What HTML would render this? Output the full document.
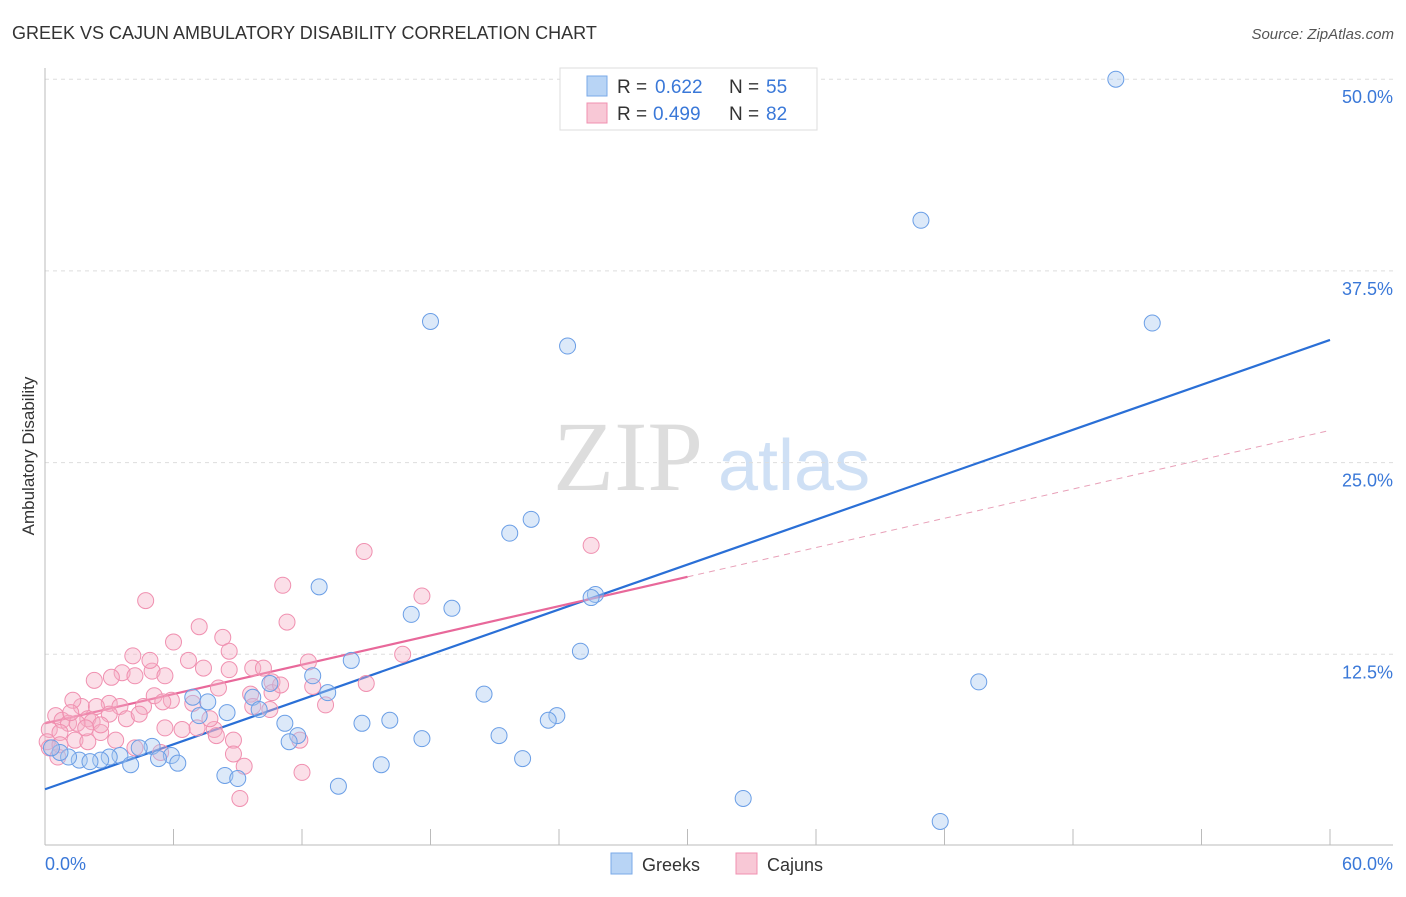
<!DOCTYPE html>
<html><head><meta charset="utf-8"><style>
body{margin:0;background:#fff;font-family:"Liberation Sans",sans-serif;}
svg text{font-family:"Liberation Sans",sans-serif;}
svg text.serif{font-family:"Liberation Serif",serif;}
</style></head><body>
<svg id="chart" width="1406" height="892" xmlns="http://www.w3.org/2000/svg">
<text x="12" y="39" font-size="18" fill="#333">GREEK VS CAJUN AMBULATORY DISABILITY CORRELATION CHART</text>
<text x="1394" y="39" font-size="15" fill="#555" text-anchor="end" font-style="italic">Source: ZipAtlas.com</text>
<text class="serif" x="553" y="490" font-size="100" fill="#ddd">ZIP</text>
<text x="718" y="490" font-size="72" fill="#cfe0f5">atlas</text>
<text transform="translate(34,456) rotate(-90)" font-size="17" fill="#333" text-anchor="middle">Ambulatory Disability</text>
<g id="grid"></g><g id="axes"></g><g id="trend"></g><g id="pts"></g>
<g>
<rect x="560" y="68" width="257" height="62" fill="#fff" stroke="#ddd"/>
<rect x="587" y="76" width="20" height="20" fill="#b8d4f5" stroke="#7aaae8"/>
<rect x="587" y="103" width="20" height="20" fill="#f8c8d6" stroke="#f090b0"/>
<text x="617" y="93" font-size="19" fill="#333">R =</text>
<text x="655" y="93" font-size="19" fill="#3a78d8">0.622</text>
<text x="729" y="93" font-size="19" fill="#333">N =</text>
<text x="766" y="93" font-size="19" fill="#3a78d8">55</text>
<text x="617" y="120" font-size="19" fill="#333">R =</text>
<text x="653" y="120" font-size="19" fill="#3a78d8">0.499</text>
<text x="729" y="120" font-size="19" fill="#333">N =</text>
<text x="766" y="120" font-size="19" fill="#3a78d8">82</text>
</g>
<g>
<rect x="611" y="853" width="21" height="21" fill="#b8d4f5" stroke="#7aaae8"/>
<text x="642" y="871" font-size="18" fill="#333">Greeks</text>
<rect x="736" y="853" width="21" height="21" fill="#f8c8d6" stroke="#f090b0"/>
<text x="767" y="871" font-size="18" fill="#333">Cajuns</text>
</g>
</svg>
<script>
const greekX=[50.0,40.9,18.0,24.4,51.7,22.7,21.7,12.8,25.7,25.5,17.1,19.0,25.0,14.3,43.6,12.5,20.5,13.2,6.9,7.6,10.5,9.7,10.0,7.2,8.5,23.9,23.5,16.1,14.8,11.2,17.6,21.2,11.8,11.4,5.0,4.4,5.9,5.3,3.5,3.0,2.6,1.6,2.1,1.1,0.7,0.3,4.0,6.2,22.3,15.7,8.4,9.0,13.7,32.6,41.8];
const greekY=[50.0,40.8,34.2,32.6,34.1,21.3,20.4,16.9,16.4,16.2,15.1,15.5,12.7,12.1,10.7,11.1,9.9,10.0,9.7,9.4,10.6,9.7,8.9,8.5,8.7,8.5,8.2,8.2,8.0,8.0,7.0,7.2,7.2,6.8,6.5,6.4,5.9,5.7,5.9,5.8,5.6,5.6,5.5,5.8,6.1,6.4,5.3,5.4,5.7,5.3,4.6,4.4,3.9,3.1,1.6];
const cajunX=[14.9,25.5,11.1,4.7,17.6,11.3,7.2,8.3,6.0,8.6,4.1,6.7,12.3,16.7,9.7,10.2,7.4,5.0,3.6,3.1,2.3,4.2,5.6,10.6,15.0,12.5,8.1,9.6,5.1,10.6,5.9,5.5,3.0,1.7,2.4,3.5,4.6,9.7,10.5,13.1,1.3,0.5,0.8,2.0,2.2,3.8,3.0,4.4,1.1,1.5,0.2,0.7,2.6,5.6,7.1,7.9,8.8,11.9,8.0,1.4,0.1,2.0,0.2,4.2,5.4,8.8,9.3,12.0,9.1,0.6,8.6,7.7,6.4,2.6,3.3,6.9,4.9,11.0,0.7,1.9,1.2];
const cajunY=[19.2,19.6,17.0,16.0,16.3,14.6,14.3,13.6,13.3,12.7,12.4,12.1,12.0,12.5,11.6,11.6,11.6,11.4,11.3,11.0,10.8,11.1,11.1,10.7,10.6,10.4,10.3,9.9,9.8,10.0,9.5,9.4,9.3,9.1,9.1,9.1,9.1,9.1,8.9,9.2,9.5,8.5,8.2,8.3,8.1,8.3,8.6,8.6,8.0,8.0,7.6,7.4,7.4,7.7,7.7,7.6,6.9,6.9,7.2,6.9,6.8,6.8,6.4,6.4,6.1,6.0,5.2,4.8,3.1,5.8,11.5,8.3,7.6,7.9,6.9,9.3,12.1,10.5,6.6,7.7,8.7];
const greekTrend=[3.7,33.0];   // y at x=0 and x=60
const cajunTrend=[8.0,27.1];   // y at x=0 and x=60
const yTicks=[12.5,25.0,37.5,50.0];
const xTickLabels=["0.0%","60.0%"];
const X0=45,X1=1330,Y0=846,YPX=191.7/12.5;
const sx=v=>X0+v/60*(X1-X0), sy=v=>Y0-v*YPX;
const NS="http://www.w3.org/2000/svg";
function mk(parent,tag,attrs){const e=document.createElementNS(NS,tag);for(const k in attrs)e.setAttribute(k,attrs[k]);document.getElementById(parent).appendChild(e);return e;}
yTicks.forEach(t=>{
  const l=mk('grid','line',{x1:45,x2:1393,y1:sy(t),y2:sy(t),stroke:'#ddd','stroke-dasharray':'4,4'});
  
  
  const tx=mk('grid','text',{x:1393,y:sy(t)+24,'font-size':18,fill:'#3a78d8','text-anchor':'end'});
  
  
  tx.textContent=t.toFixed(1)+'%';
});
let a=mk('axes','line',{x1:45,x2:1393,y1:845,y2:845,stroke:'#bbb'});


a=mk('axes','line',{x1:45,x2:45,y1:68,y2:845,stroke:'#bbb'});


for(let i=0;i<=10;i++){
  const t=mk('axes','line',{x1:sx(i*6),x2:sx(i*6),y1:829,y2:845,stroke:'#bbb'});
  
  
}
[[0,'start',45],[1,'end',1393]].forEach(([i,anc,x])=>{
  const t=mk('axes','text',{x:x,y:870,'font-size':18,fill:'#3a78d8','text-anchor':anc});
  
  
  t.textContent=xTickLabels[i];
});
function dots(xs,ys,fill,stroke,name){
  xs.forEach((x,i)=>{
    const c=mk('pts','circle',{cx:sx(x),cy:sy(ys[i]),r:8,fill:fill,'fill-opacity':0.4,stroke:stroke,'stroke-width':1});
    
    
  });
}
dots(cajunX,cajunY,'#f5b0c5','#f090b0','cajun-point');
dots(greekX,greekY,'#a8c8f0','#6a9ee6','greek-point');
let tl=mk('trend','line',{x1:sx(0),y1:sy(greekTrend[0]),x2:sx(60),y2:sy(greekTrend[1]),stroke:'#2a6fd6','stroke-width':2.2});


const cy=x=>cajunTrend[0]+(cajunTrend[1]-cajunTrend[0])*x/60;
tl=mk('trend','line',{x1:sx(0),y1:sy(cy(0)),x2:sx(30),y2:sy(cy(30)),stroke:'#e8689a','stroke-width':2.2});


tl=mk('trend','line',{x1:sx(30),y1:sy(cy(30)),x2:sx(60),y2:sy(cy(60)),stroke:'#e8a0b8','stroke-width':1,'stroke-dasharray':'6,5'});


</script>
</body></html>
